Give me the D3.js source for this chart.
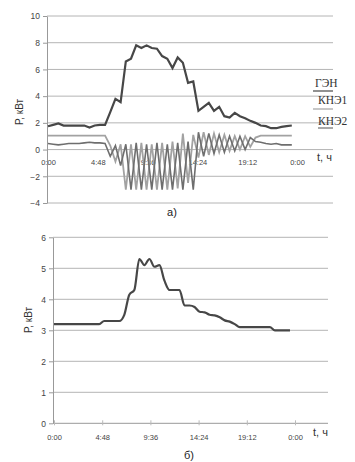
<!DOCTYPE html>
<html><head><meta charset="utf-8">
<script src="https://cdn.jsdelivr.net/npm/d3@7"></script>
<style>body{margin:0;background:#fff}svg{display:block}</style>
</head><body>
<script>
// ---- data ----
const times = ["0:00","0:30","1:00","1:30","2:00","2:30","3:00","3:30","4:00","4:30","5:00","5:30",
  "6:00","6:30","7:00","7:30","8:00","8:30","9:00","9:30","10:00","10:30","11:00","11:30",
  "12:00","12:30","13:00","13:30","14:00","14:30","15:00","15:30","16:00","16:30","17:00","17:30",
  "18:00","18:30","19:00","19:30","20:00","20:30","21:00","21:30","22:00","22:30","23:00","23:30"];
const tickLabels = ["0:00","4:48","9:36","14:24","19:12","0:00"];
const tickHours = [0,4.8,9.6,14.4,19.2,24];
const seriesNames = ["ГЭН","КНЭ1","КНЭ2"];
const gen = [1.75,1.85,1.95,1.8,1.8,1.8,1.8,1.8,1.65,1.8,1.85,1.85,
  2.8,3.8,3.55,6.6,6.8,7.8,7.6,7.8,7.6,7.55,7.0,6.8,
  6.1,6.9,6.5,5.0,5.1,2.9,3.2,3.5,2.9,3.2,2.5,2.4,
  2.75,2.5,2.35,2.15,2.0,1.8,1.75,1.6,1.6,1.7,1.75,1.8];
const kne1 = [1.05,1.05,1.05,1.05,1.05,1.05,1.05,1.05,1.05,1.05,1.05,1.05,
  0.3,-0.9,0.4,-3.0,0.4,-3.0,0.5,-3.0,0.4,-3.0,0.5,-3.0,
  0.6,-2.9,1.2,-2.5,1.1,-0.6,1.3,-0.4,1.2,-0.2,1.1,-0.1,
  1.0,0.0,1.0,0.2,0.9,1.05,1.05,1.05,1.05,1.05,1.05,1.05];
const kne2 = [0.45,0.4,0.35,0.4,0.45,0.45,0.45,0.5,0.55,0.5,0.5,0.45,
  -0.5,0.3,-1.2,0.4,-3.0,0.5,-3.0,0.4,-3.0,0.5,-3.0,0.4,
  -3.0,0.5,-3.0,0.6,-3.0,1.3,-0.5,1.2,-0.3,1.1,-0.2,1.0,
  -0.1,1.0,0.0,0.9,0.6,0.55,0.45,0.4,0.45,0.35,0.35,0.35];
const load = [3.2,3.2,3.2,3.2,3.2,3.2,3.2,3.2,3.2,3.2,3.3,3.3,
  3.3,3.3,3.5,4.15,4.3,5.3,5.1,5.3,5.05,5.1,4.6,4.3,
  4.3,4.3,3.8,3.8,3.75,3.6,3.58,3.5,3.48,3.42,3.32,3.28,
  3.2,3.1,3.1,3.1,3.1,3.1,3.1,3.1,3.0,3.0,3.0,3.0];
const yTicksA = [10,8,6,4,2,0,-2,-4];
const yTicksB = [0,1,2,3,4,5,6];

const hrs = t => { const [h,m] = t.split(":").map(Number); return h + m/60; };

const svg = d3.select("body").append("svg").attr("width",355).attr("height",462);
const FONT = "Liberation Sans, Arial, sans-serif";
const gridCol = "#b4b4b4", txtCol = "#444";

// ---------- Chart a ----------
const xa = d3.scaleLinear([0,24],[48,297]);
const ya = d3.scaleLinear([-4,10],[203,16]);
const ga = svg.append("g");
ga.selectAll("line.grid").data(yTicksA).join("line")
  .attr("x1",47).attr("x2",333).attr("y1",d=>ya(d)).attr("y2",d=>ya(d))
  .attr("stroke",gridCol).attr("stroke-width",1);
const axA = ga.append("g").attr("transform","translate(47,0)")
  .call(d3.axisLeft(ya).tickValues(yTicksA).tickFormat(d3.format("d")).tickSize(4).tickSizeOuter(0));
axA.select(".domain").attr("stroke","#999");
axA.selectAll(".tick line").attr("stroke","#999");
axA.selectAll("text").attr("font-family",FONT).attr("font-size",8.5).attr("fill",txtCol).attr("x",-7);
const axAx = ga.append("g").attr("transform",`translate(0,${ya(0)})`)
  .call(d3.axisBottom(xa).tickValues(tickHours).tickFormat((d,i)=>tickLabels[i]).tickSize(0));
axAx.select(".domain").remove();
axAx.selectAll("text").attr("font-family",FONT).attr("font-size",7.5).attr("fill",txtCol).attr("dy","1.6em");

const lineA = vals => d3.line().x((d,i)=>xa(hrs(times[i]))).y(d=>ya(d))(vals);
ga.append("path").attr("d",lineA(kne1)).attr("fill","none").attr("stroke","#a2a2a2").attr("stroke-width",1.8);
ga.append("path").attr("d",lineA(kne2)).attr("fill","none").attr("stroke","#6e6e6e").attr("stroke-width",1.6);
ga.append("path").attr("d",lineA(gen)).attr("fill","none").attr("stroke","#474747").attr("stroke-width",2.2);

// legend (a)
const legCols = ["#474747","#a2a2a2","#6e6e6e"];
const legPos = [[315,87,313,91],[318,104,313,109],[318,125,318,128]];
seriesNames.forEach((n,i)=>{
  ga.append("text").attr("x",legPos[i][0]).attr("y",legPos[i][1]).text(n)
    .attr("font-family","Liberation Serif, Times New Roman, serif").attr("font-size",11.5).attr("fill","#333");
  ga.append("line").attr("x1",legPos[i][2]).attr("x2",333).attr("y1",legPos[i][3]).attr("y2",legPos[i][3])
    .attr("stroke",legCols[i]).attr("stroke-width",1.2);
});
ga.append("text").attr("x",317).attr("y",161).text("t, ч").attr("font-family",FONT).attr("font-size",11).attr("fill","#333");
ga.append("text").attr("transform","translate(23,112) rotate(-90)").attr("text-anchor","middle")
  .text("P, кВт").attr("font-family",FONT).attr("font-size",10).attr("fill","#333");
ga.append("text").attr("x",172).attr("y",216).attr("text-anchor","middle").text("а)")
  .attr("font-family",FONT).attr("font-size",11).attr("fill","#222");

// ---------- Chart b ----------
const xb = d3.scaleLinear([0,24],[54,295]);
const yb = d3.scaleLinear([0,6],[423.3,237.3]);
const gb = svg.append("g");
gb.selectAll("line.grid").data(yTicksB.filter(d=>d>0)).join("line")
  .attr("x1",53).attr("x2",328).attr("y1",d=>yb(d)).attr("y2",d=>yb(d))
  .attr("stroke",gridCol).attr("stroke-width",1);
const axB = gb.append("g").attr("transform","translate(53,0)")
  .call(d3.axisLeft(yb).tickValues(yTicksB).tickFormat(d3.format("d")).tickSize(4).tickSizeOuter(0));
axB.select(".domain").attr("stroke","#999");
axB.selectAll(".tick line").attr("stroke","#999");
axB.selectAll("text").attr("font-family",FONT).attr("font-size",8.5).attr("fill",txtCol).attr("x",-7);
const axBx = gb.append("g").attr("transform",`translate(0,${yb(0)})`)
  .call(d3.axisBottom(xb).tickValues(tickHours).tickFormat((d,i)=>tickLabels[i]).tickSize(3).tickSizeOuter(0));
axBx.select(".domain").attr("d","M53,0H328").attr("stroke","#999");
axBx.selectAll(".tick line").attr("stroke","#bbb").attr("y1",-3).attr("y2",2);
axBx.selectAll("text").attr("font-family",FONT).attr("font-size",7.5).attr("fill",txtCol).attr("dy","1.4em");

const lineB = d3.line().x((d,i)=>xb(hrs(times[i]))).y(d=>yb(d)).curve(d3.curveMonotoneX);
gb.append("path").attr("d",lineB(load)).attr("fill","none").attr("stroke","#474747").attr("stroke-width",2.2);

gb.append("text").attr("x",313).attr("y",436).text("t, ч").attr("font-family",FONT).attr("font-size",11).attr("fill","#333");
gb.append("text").attr("transform","translate(32,320) rotate(-90)").attr("text-anchor","middle")
  .text("P, кВт").attr("font-family",FONT).attr("font-size",10).attr("fill","#333");
gb.append("text").attr("x",189).attr("y",459).attr("text-anchor","middle").text("б)")
  .attr("font-family",FONT).attr("font-size",11).attr("fill","#222");
</script>
</body></html>
